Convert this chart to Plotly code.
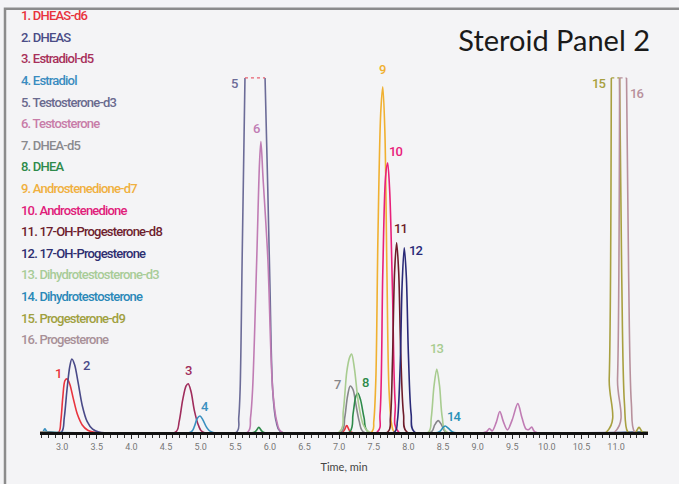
import plotly.graph_objects as go

# ---------------- data ----------------
names = ["DHEAS-d6", "DHEAS", "Estradiol-d5", "Estradiol", "Testosterone-d3",
         "Testosterone", "DHEA-d5", "DHEA", "Androstenedione-d7", "Androstenedione",
         "17-OH-Progesterone-d8", "17-OH-Progesterone", "Dihydrotestosterone-d3",
         "Dihydrotestosterone", "Progesterone-d9", "Progesterone"]

colors = ["#e8343e", "#4a4a88", "#a02c5c", "#3a90c0", "#6c6c98", "#c07cb4",
          "#86868a", "#2e8a4a", "#f0b030", "#e8207a", "#6e1c2a", "#2a2a78",
          "#a8cc90", "#2a90b8", "#a8a040", "#b8909c"]

# retention time (min) and relative intensity (%, 100 = off-scale)
t1 = [2.68, 2.95, 2.98, 3.01, 3.04, 3.07, 3.11, 3.16, 3.22, 3.29, 3.37, 3.45, 7.05, 7.11, 7.17, 11.46]
i1 = [0, 0, 3, 10, 14.5, 15, 13.5, 9.5, 5, 2, 0.5, 0, 0, 1.8, 0, 0]

t2 = [2.68, 2.99, 3.03, 3.07, 3.11, 3.14, 3.18, 3.23, 3.29, 3.36, 3.44, 3.53, 11.46]
i2 = [0, 0, 4, 12, 18.5, 20.6, 19, 14, 7.5, 3, 0.8, 0, 0]

t3 = [2.68, 4.64, 4.69, 4.74, 4.79, 4.82, 4.86, 4.91, 4.97, 5.03, 11.46]
i3 = [0, 0, 3, 9, 13, 13.6, 11.5, 6, 1.8, 0, 0]

t4 = [2.68, 2.72, 2.75, 2.79, 4.86, 4.91, 4.95, 4.99, 5.03, 5.09, 5.16, 11.46]
i4 = [0, 0, 0.9, 0, 0, 1.6, 3.8, 4.5, 3.5, 1.2, 0, 0]

t5 = [2.68, 5.52, 5.55, 5.57, 5.6, 5.64, 5.72, 5.8, 5.88, 5.93, 5.97, 6.0, 6.04, 6.09, 6.16, 11.46]
i5 = [0, 0, 4, 12, 50, 100, 100, 100, 100, 100, 68, 42, 12, 3, 0, 0]

t6 = [2.68, 5.68, 5.72, 5.75, 5.81, 5.85, 5.87, 5.9, 5.97, 6.04, 6.1, 6.17,
      9.12, 9.17, 9.21, 9.27, 9.32, 9.37, 9.43, 9.5, 9.58, 9.64, 9.7, 9.74, 9.78, 9.83, 11.46]
i6 = [0, 0, 4, 12, 49, 76, 82, 72, 49, 12, 3, 0,
      0, 1, 0.3, 2.8, 5.8, 3, 0.6, 3.5, 8, 4, 0.8, 0.7, 1.4, 0, 0]

t7 = [2.68, 7.03, 7.08, 7.12, 7.16, 7.2, 7.24, 7.29, 7.35, 8.33, 8.38, 8.43, 8.48, 8.54, 11.46]
i7 = [0, 0, 4, 10, 13, 12, 8, 3, 0, 0, 2, 3.2, 2, 0, 0]

t8 = [2.68, 5.78, 5.84, 5.9, 7.15, 7.2, 7.24, 7.27, 7.31, 7.36, 7.42, 11.46]
i8 = [0, 0, 1.3, 0, 0, 5, 10, 11, 9, 4, 0, 0]

t9 = [2.68, 7.47, 7.5, 7.53, 7.56, 7.6, 7.63, 7.66, 7.69, 7.72, 7.76, 7.8, 11.46]
i9 = [0, 0, 3, 15, 55, 90, 97.5, 85, 45, 12, 2, 0, 0]

t10 = [2.68, 7.55, 7.59, 7.63, 7.67, 7.7, 7.73, 7.77, 7.81, 7.86, 11.46]
i10 = [0, 0, 5, 45, 72, 76, 68, 40, 8, 0, 0]

t11 = [2.68, 7.7, 7.74, 7.77, 7.8, 7.83, 7.86, 7.89, 7.93, 7.98, 11.46]
i11 = [0, 0, 4, 20, 45, 53.5, 45, 22, 5, 0, 0]

t12 = [2.68, 7.8, 7.84, 7.88, 7.91, 7.94, 7.97, 8.0, 8.04, 8.09, 11.46]
i12 = [0, 0, 3, 18, 42, 52, 44, 22, 5, 0, 0]

t13 = [2.68, 7.0, 7.06, 7.11, 7.15, 7.18, 7.22, 7.28, 7.35, 7.43,
       8.29, 8.33, 8.37, 8.41, 8.45, 8.49, 8.55, 11.46]
i13 = [0, 0, 6, 17, 21, 22, 18, 8, 2, 0,
       0, 4, 13, 17.8, 13, 4, 0, 0]

t14 = [2.68, 8.44, 8.49, 8.53, 8.58, 8.64, 11.46]
i14 = [0, 0, 1, 1.7, 1, 0, 0]

t15 = [2.68, 10.86, 10.9, 10.93, 10.99, 11.05, 11.08, 11.12, 11.17, 11.28, 11.33, 11.38, 11.46]
i15 = [0, 0, 15, 100, 100, 100, 45, 8, 0, 0, 1.3, 0, 0]

t16 = [2.68, 10.98, 11.02, 11.05, 11.1, 11.15, 11.18, 11.22, 11.27, 11.46]
i16 = [0, 0, 15, 100, 100, 100, 45, 8, 0, 0]

times = [t1, t2, t3, t4, t5, t6, t7, t8, t9, t10, t11, t12, t13, t14, t15, t16]
intens = [i1, i2, i3, i4, i5, i6, i7, i8, i9, i10, i11, i12, i13, i14, i15, i16]

# retention time of the peak that carries each number label
label_at = [3.07, 3.14, 4.82, 4.99, 5.64, 5.87, 7.16, 7.27, 7.63, 7.7, 7.83, 7.94, 8.41, 8.53, 10.93, 11.15]

x_ticks = [3.0 + 0.5 * k for k in range(17)]
SAT = 100

# ---------------- styling offsets for peak labels (px) ----------------
label_shift = [(-9, 5), (15, -6), (0, 13), (5, 10), (-10, -6), (-4, 13), (-13, 1), (8, 11),
               (0, 17), (8, 11), (4, 14), (12, -3), (0, 20), (9, 9), (-12, -6), (10, -16)]

NARROW = "Roboto, sans-serif"
TIGHT = "letter-spacing:-0.8px"

fig = go.Figure()

for k in range(16):
    t, y = times[k], intens[k]
    sat = [j for j, v in enumerate(y) if v >= SAT]
    y_main = list(y)
    if sat:
        for j in sat[1:-1]:
            y_main[j] = None
    fig.add_trace(go.Scatter(x=t, y=y_main, mode="lines", name=names[k],
                             line=dict(color=colors[k], width=1.6, shape="spline", smoothing=0.9),
                             showlegend=False, hoverinfo="skip"))
    if sat:
        fig.add_trace(go.Scatter(x=[t[j] for j in sat], y=[y[j] for j in sat], mode="lines",
                                 line=dict(color="#e86070" if k == 4 else colors[k], width=1.4, dash="dot"),
                                 showlegend=False, hoverinfo="skip"))

# number labels at the peaks
for k in range(16):
    t, y = times[k], intens[k]
    cand = [j for j in range(len(t)) if abs(t[j] - label_at[k]) <= 0.02]
    j = max(cand, key=lambda q: y[q])
    fig.add_annotation(x=t[j], y=min(y[j], SAT), text=f"<span style='{TIGHT}'>{k + 1}</span>",
                       showarrow=False,
                       xshift=label_shift[k][0], yshift=label_shift[k][1],
                       font=dict(family=NARROW, size=13, color=colors[k], weight=500))

# legend list (plain coloured text)
legend_colors = ["#e8323c", "#4a4c86", "#a8305a", "#3a8cc0", "#6a6a8e", "#c87ca8",
                 "#8a8a8e", "#2e8a4a", "#f0b040", "#e0207a", "#6e1e2e", "#2e2e70",
                 "#a8cc98", "#2a88b8", "#a0a040", "#a89098"]
for k in range(16):
    ypx = 15 + k * 21.9
    fig.add_annotation(xref="paper", yref="paper", x=(19 - 40) / 608, y=(437 - ypx) / 366,
                       xanchor="left", yanchor="middle", showarrow=False,
                       text=f"<span style='{TIGHT}'>{k + 1}. {names[k]}</span>",
                       font=dict(family=NARROW, size=13, color=legend_colors[k], weight=500))

# outer frame
fig.add_shape(type="rect", xref="paper", yref="paper",
              x0=(5 - 40) / 608, x1=(700 - 40) / 608, y0=(437 - 500) / 366, y1=(437 - 8) / 366,
              line=dict(color="#8c8c8c", width=2.5), fillcolor="rgba(0,0,0,0)", layer="below")

fig.update_layout(
    width=679, height=484,
    margin=dict(l=40, r=31, t=71, b=47),
    paper_bgcolor="#f4f4f6", plot_bgcolor="#f4f4f6",
    title=dict(text="Steroid Panel 2", x=650 / 679, xanchor="right", y=1 - 41 / 484, yanchor="middle",
               font=dict(family="Lato, Noto Sans, sans-serif", size=29, color="#1a1a1a")),
    xaxis=dict(range=[2.68, 11.46], tickvals=x_ticks, tickformat=".1f",
               ticks="outside", ticklen=4, tickwidth=1, tickcolor="#222",
               showline=True, linecolor="#111", linewidth=2.5, showgrid=False, zeroline=False,
               minor=dict(dtick=0.1, ticks="outside", ticklen=3, tickcolor="#333", showgrid=False),
               tickfont=dict(family=NARROW, size=9, color="#777"),
               title=dict(text="Time, min", font=dict(family="Lato, Noto Sans, sans-serif", size=11, color="#444"),
                          standoff=13)),
    yaxis=dict(visible=False, range=[0, 101.95]),
)

fig.write_html("out.html", config={"displayModeBar": False},
               post_script="document.body.style.margin='0';")
